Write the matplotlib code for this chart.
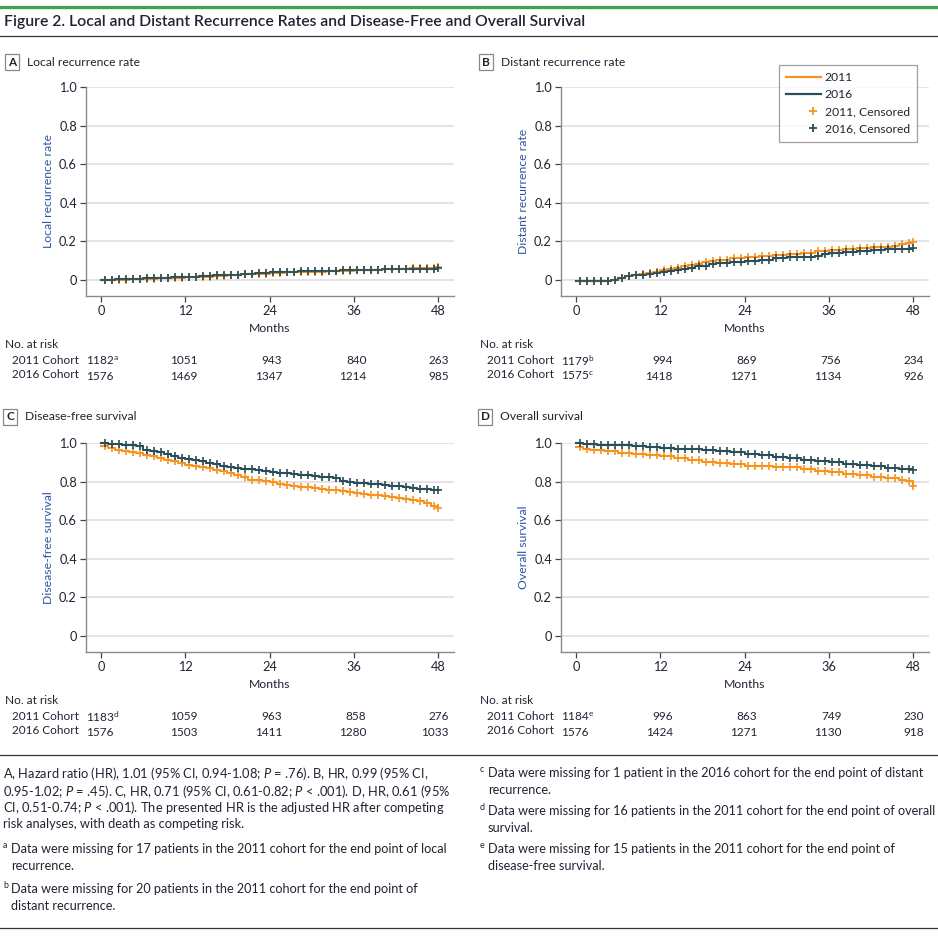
import numpy as np
import matplotlib
matplotlib.use("Agg")
import matplotlib.pyplot as plt
from matplotlib.lines import Line2D
from matplotlib.patches import Rectangle
from matplotlib.legend_handler import HandlerLine2D
from matplotlib.transforms import blended_transform_factory

# ---------------- data ----------------
panel_letters = ["A", "B", "C", "D"]
panel_titles = ["Local recurrence rate", "Distant recurrence rate",
                "Disease-free survival", "Overall survival"]
y_labels = ["Local recurrence rate", "Distant recurrence rate",
            "Disease-free survival", "Overall survival"]
x_ticks = [0, 12, 24, 36, 48]
y_ticks = [0, 0.2, 0.4, 0.6, 0.8, 1.0]
y_ticklabels = ["0", "0.2", "0.4", "0.6", "0.8", "1.0"]
series_names = ["2011", "2016"]

# Panel A: local recurrence
a_t_2011 = [0, 2, 4, 6, 8, 10, 12, 14, 16, 18, 20, 22, 24, 26, 28, 30, 32, 34, 36, 38, 40, 42, 44, 46, 48]
a_v_2011 = [0.0, 0.002, 0.004, 0.006, 0.009, 0.012, 0.015, 0.018, 0.022, 0.025, 0.029, 0.033, 0.036,
            0.039, 0.041, 0.043, 0.046, 0.048, 0.050, 0.053, 0.056, 0.058, 0.061, 0.063, 0.065]
a_t_2016 = [0, 2, 4, 6, 8, 10, 12, 14, 16, 18, 20, 22, 24, 26, 28, 30, 32, 34, 36, 38, 40, 42, 44, 46, 48]
a_v_2016 = [0.002, 0.004, 0.006, 0.008, 0.011, 0.015, 0.018, 0.021, 0.025, 0.028, 0.032, 0.036, 0.040,
            0.042, 0.044, 0.046, 0.048, 0.050, 0.052, 0.054, 0.056, 0.057, 0.058, 0.059, 0.060]

# Panel B: distant recurrence
b_t_2011 = [0, 4, 5, 6, 7, 8, 9, 10, 11, 12, 13, 14, 15, 16, 17, 18, 19, 20, 22, 24, 26, 28, 30,
            32, 34, 36, 38, 40, 42, 44, 45, 46, 47, 48]
b_v_2011 = [-0.005, -0.005, 0.0, 0.012, 0.020, 0.025, 0.030, 0.035, 0.043, 0.052, 0.058, 0.064, 0.070,
            0.077, 0.084, 0.092, 0.100, 0.105, 0.112, 0.120, 0.126, 0.131, 0.135, 0.140, 0.148, 0.155,
            0.161, 0.166, 0.170, 0.173, 0.178, 0.186, 0.192, 0.195]
b_t_2016 = [0, 4, 5, 6, 7, 8, 10, 11, 12, 13, 14, 15, 16, 17, 18, 19, 20, 22, 24, 26, 28, 30, 32,
            34, 35, 36, 38, 40, 42, 44, 46, 48]
b_v_2016 = [-0.005, -0.005, 0.0, 0.010, 0.020, 0.024, 0.030, 0.036, 0.042, 0.047, 0.053, 0.058, 0.064,
            0.070, 0.075, 0.082, 0.088, 0.094, 0.100, 0.106, 0.112, 0.118, 0.121, 0.126, 0.134, 0.140,
            0.146, 0.151, 0.155, 0.158, 0.162, 0.168]

# Panel C: disease-free survival
c_t_2011 = [0, 1, 2, 3, 4, 5, 6, 7, 8, 9, 10, 11, 12, 13, 14, 15, 16, 17, 18, 19, 20, 21, 22, 23, 24,
            25, 26, 27, 28, 29, 30, 31, 32, 33, 34, 35, 36, 37, 38, 39, 40, 41, 42, 43, 44, 45, 46, 47, 48]
c_v_2011 = [0.983, 0.975, 0.965, 0.960, 0.953, 0.947, 0.940, 0.932, 0.923, 0.914, 0.905, 0.896, 0.888,
            0.882, 0.877, 0.871, 0.862, 0.853, 0.845, 0.833, 0.822, 0.810, 0.806, 0.801, 0.797,
            0.790, 0.783, 0.776, 0.773, 0.770, 0.767, 0.763, 0.759, 0.755, 0.750, 0.746, 0.741,
            0.737, 0.733, 0.729, 0.724, 0.719, 0.714, 0.708, 0.703, 0.697, 0.688, 0.675, 0.662]
c_t_2016 = [0, 1, 2, 3, 4, 5, 6, 7, 8, 9, 10, 11, 12, 13, 14, 15, 16, 17, 18, 19, 20, 21, 22, 23, 24,
            25, 26, 27, 28, 29, 30, 31, 32, 33, 34, 35, 36, 37, 38, 39, 40, 41, 42, 43, 44, 45, 46, 47, 48]
c_v_2016 = [1.0, 0.995, 0.993, 0.990, 0.988, 0.984, 0.965, 0.958, 0.952, 0.945, 0.935, 0.923, 0.918,
            0.912, 0.905, 0.898, 0.890, 0.882, 0.874, 0.870, 0.866, 0.863, 0.861, 0.855, 0.848,
            0.845, 0.842, 0.839, 0.836, 0.833, 0.830, 0.826, 0.823, 0.820, 0.802, 0.798, 0.795,
            0.792, 0.788, 0.785, 0.782, 0.779, 0.776, 0.772, 0.768, 0.762, 0.760, 0.758, 0.756]

# Panel D: overall survival
d_t_2011 = [0, 1, 2, 4, 6, 8, 10, 12, 14, 16, 18, 20, 22, 24, 26, 28, 30, 32, 34, 36, 38, 40, 42, 44, 46, 47, 48]
d_v_2011 = [0.979, 0.970, 0.966, 0.958, 0.948, 0.942, 0.936, 0.931, 0.922, 0.912, 0.902, 0.898, 0.891,
            0.882, 0.880, 0.878, 0.876, 0.865, 0.855, 0.848, 0.840, 0.832, 0.824, 0.817, 0.810, 0.802, 0.776]
d_t_2016 = [0, 1, 3, 6, 8, 10, 12, 14, 16, 18, 20, 22, 24, 26, 28, 30, 32, 34, 36, 38, 40, 42, 44, 46, 48]
d_v_2016 = [1.0, 0.993, 0.991, 0.988, 0.984, 0.979, 0.974, 0.971, 0.968, 0.965, 0.957, 0.951, 0.945,
            0.938, 0.930, 0.922, 0.914, 0.907, 0.900, 0.893, 0.886, 0.879, 0.873, 0.866, 0.860]

censor_months = [0.5, 1.5, 2.5, 3.5, 4.5, 5.5, 6.5, 7.5, 8.5, 9.5, 10.5, 11.5,
                 12.5, 13.5, 14.5, 15.5, 16.5, 17.5, 18.5, 19.5, 20.5, 21.5, 22.5, 23.5,
                 24.5, 25.5, 26.5, 27.5, 28.5, 29.5, 30.5, 31.5, 32.5, 33.5, 34.5, 35.5,
                 36.5, 37.5, 38.5, 39.5, 40.5, 41.5, 42.5, 43.5, 44.5, 45.5, 46.5, 47.5, 48.0]

risk_2011 = [["1182", "1051", "943", "840", "263"],
             ["1179", "994", "869", "756", "234"],
             ["1183", "1059", "963", "858", "276"],
             ["1184", "996", "863", "749", "230"]]
risk_2016 = [["1576", "1469", "1347", "1214", "985"],
             ["1575", "1418", "1271", "1134", "926"],
             ["1576", "1503", "1411", "1280", "1033"],
             ["1576", "1424", "1271", "1130", "918"]]
risk_sup_2011 = ["a", "b", "d", "e"]
risk_sup_2016 = ["", "c", "", ""]

panels = [
    ((a_t_2011, a_v_2011), (a_t_2016, a_v_2016)),
    ((b_t_2011, b_v_2011), (b_t_2016, b_v_2016)),
    ((c_t_2011, c_v_2011), (c_t_2016, c_v_2016)),
    ((d_t_2011, d_v_2011), (d_t_2016, d_v_2016)),
]

# ---------------- style ----------------
plt.rcParams['font.family'] = ['Lato', 'DejaVu Sans']
plt.rcParams['mathtext.fontset'] = 'custom'
plt.rcParams['mathtext.rm'] = 'Lato'
plt.rcParams['mathtext.it'] = 'Lato:italic'

C2011 = "#F7931E"
C2016 = "#2A4D5A"
TXT = "#222233"
YLAB = "#2F55A0"
GRID = "#DCDCDC"
SPINE = "#8A8A8A"

W, H = 938, 936
fig = plt.figure(figsize=(W / 100, H / 100), dpi=100)
fig.patch.set_facecolor("white")


def fy(py):
    return 1 - py / H


def fx(px):
    return px / W


def sup(s):
    return r"$^{\mathrm{" + s + r"}}$" if s else ""


# header lines and title
fig.add_artist(Line2D([0, 1], [fy(7), fy(7)], color="#3FA34D", lw=2.4, transform=fig.transFigure))
fig.add_artist(Line2D([0, 1], [fy(36), fy(36)], color="#333333", lw=0.9, transform=fig.transFigure))
fig.text(fx(4), fy(22), "Figure 2. Local and Distant Recurrence Rates and Disease-Free and Overall Survival",
         fontsize=11.35, color=TXT, ha="left", va="center", fontweight="semibold")


class RightMarkerHandler(HandlerLine2D):
    def create_artists(self, legend, orig_handle, xdescent, ydescent, width, height, fontsize, trans):
        arts = super().create_artists(legend, orig_handle, xdescent, ydescent, width, height, fontsize, trans)
        for a in arts:
            a.set_markevery(None)
            a.set_data([width - xdescent - 6], [(height - ydescent) / 2])
        return arts


def step_value(t, v, c):
    idx = np.searchsorted(np.asarray(t), c, side="right") - 1
    return np.asarray(v)[idx]


# axes geometry in pixels: (left, right, top, bottom)
geoms = [(86, 454, 87, 296), (561, 929, 87, 296), (86, 454, 443, 652), (561, 929, 443, 652)]
label_geo = [(5, 62), (479, 62), (3, 417), (478, 417)]
xlim = (-2.14, 50.28)
ylim = (-0.083, 1.0)

for i, (l, r, t, b) in enumerate(geoms):
    ax = fig.add_axes([fx(l), fy(b), fx(r - l), (b - t) / H])
    ax.set_xlim(*xlim)
    ax.set_ylim(*ylim)
    for s in ["top", "right"]:
        ax.spines[s].set_visible(False)
    for s in ["left", "bottom"]:
        ax.spines[s].set_color(SPINE)
        ax.spines[s].set_linewidth(1.0)
    ax.set_xticks(x_ticks)
    ax.set_xticklabels([str(x) for x in x_ticks])
    ax.set_yticks(y_ticks)
    ax.set_yticklabels(y_ticklabels)
    ax.tick_params(axis="both", labelsize=9.2, colors="#444444", labelcolor=TXT, length=4, width=0.9, pad=2.5)
    for yv in y_ticks:
        ax.axhline(yv, color=GRID, lw=1.1, zorder=0)
    ax.set_ylabel(y_labels[i], fontsize=8.8, color=YLAB, labelpad=4)
    ax.set_xlabel("Months", fontsize=8.8, color=TXT, labelpad=4.5)

    for (tt, vv), col in zip(panels[i], [C2011, C2016]):
        ax.plot(tt, vv, drawstyle="steps-post", color=col, lw=1.5, zorder=3, clip_on=False)
        cy = step_value(tt, vv, censor_months)
        ax.plot(censor_months, cy, linestyle="none", marker="+", color=col, ms=6, mew=1.2,
                zorder=4, clip_on=False)

    # panel label
    bx, by = label_geo[i]
    fig.add_artist(Rectangle((fx(bx), fy(by + 8)), fx(14), 16 / H, transform=fig.transFigure,
                             facecolor="white", edgecolor="#888888", lw=0.9))
    fig.text(fx(bx + 7), fy(by), panel_letters[i], fontsize=8.5, fontweight="bold", color=TXT,
             ha="center", va="center")
    fig.text(fx(bx + 22), fy(by), panel_titles[i], fontsize=8.7, color=TXT, ha="left", va="center")

    # at-risk table
    trans = blended_transform_factory(ax.transData, fig.transFigure)
    row0 = b + 48
    fig.text(fx(l - 81), fy(row0), "No. at risk", fontsize=8.5, color=TXT, ha="left", va="center")
    fig.text(fx(l - 74), fy(row0 + 16), "2011 Cohort", fontsize=8.5, color=TXT, ha="left", va="center")
    fig.text(fx(l - 74), fy(row0 + 31), "2016 Cohort", fontsize=8.5, color=TXT, ha="left", va="center")
    for j, xt in enumerate(x_ticks):
        for k, (vals, sups) in enumerate([(risk_2011, risk_sup_2011), (risk_2016, risk_sup_2016)]):
            yy = fy(row0 + 16 + 15 * k)
            if j == 0:
                ax.text(xlim[0], yy, vals[i][0] + sup(sups[i]), transform=trans, fontsize=8.5, color=TXT,
                        ha="left", va="center_baseline")
            else:
                off = 1.5 if j == 4 else 1.8
                ax.text(xt + off, yy, vals[i][j], transform=trans, fontsize=8.5, color=TXT,
                        ha="right", va="center_baseline")

    if i == 1:
        handles = [Line2D([], [], color=C2011, lw=1.6),
                   Line2D([], [], color=C2016, lw=1.6),
                   Line2D([], [], color=C2011, marker="+", ls="none", ms=6, mew=1.3),
                   Line2D([], [], color=C2016, marker="+", ls="none", ms=6, mew=1.3)]
        labels = ["2011", "2016", "2011, Censored", "2016, Censored"]
        leg = ax.legend(handles, labels, loc="upper right",
                        bbox_to_anchor=(fx(917), fy(65)), bbox_transform=fig.transFigure,
                        fontsize=8.7, frameon=True, fancybox=False, handlelength=2.9,
                        handletextpad=0.3, labelspacing=0.5, borderpad=0.6, borderaxespad=0,
                        handler_map={handles[2]: RightMarkerHandler(), handles[3]: RightMarkerHandler()})
        leg.get_frame().set_edgecolor("#888888")
        leg.get_frame().set_linewidth(0.9)
        for txt in leg.get_texts():
            txt.set_color(TXT)

# footnotes
fig.add_artist(Line2D([0, 1], [fy(755), fy(755)], color="#333333", lw=0.9, transform=fig.transFigure))
fig.add_artist(Line2D([0, 1], [fy(928), fy(928)], color="#333333", lw=0.9, transform=fig.transFigure))

FS = 9.1
left_lines = [
    (772, "A, Hazard ratio (HR), 1.01 (95% CI, 0.94-1.08; $P$ = .76). B, HR, 0.99 (95% CI,"),
    (789, "0.95-1.02; $P$ = .45). C, HR, 0.71 (95% CI, 0.61-0.82; $P$ < .001). D, HR, 0.61 (95%"),
    (806, "CI, 0.51-0.74; $P$ < .001). The presented HR is the adjusted HR after competing"),
    (823, "risk analyses, with death as competing risk."),
]
for yy, s in left_lines:
    fig.text(fx(3), fy(yy), s, fontsize=9.3, color=TXT, ha="left", va="center_baseline")

notes = [
    (3, 848, "a", ["Data were missing for 17 patients in the 2011 cohort for the end point of local",
                   "recurrence."]),
    (3, 888, "b", ["Data were missing for 20 patients in the 2011 cohort for the end point of",
                   "distant recurrence."]),
    (480, 772, "c", ["Data were missing for 1 patient in the 2016 cohort for the end point of distant",
                     "recurrence."]),
    (480, 810, "d", ["Data were missing for 16 patients in the 2011 cohort for the end point of overall",
                     "survival."]),
    (480, 848, "e", ["Data were missing for 15 patients in the 2011 cohort for the end point of",
                     "disease-free survival."]),
]
for x0, y0, s_, lines in notes:
    fig.text(fx(x0), fy(y0 - 4), s_, fontsize=FS * 0.7, color=TXT, ha="left", va="center_baseline")
    for k, s in enumerate(lines):
        fig.text(fx(x0 + 8), fy(y0 + 17 * k), s, fontsize=FS, color=TXT, ha="left", va="center_baseline")

fig.savefig("out.png", dpi=100, facecolor="white")
